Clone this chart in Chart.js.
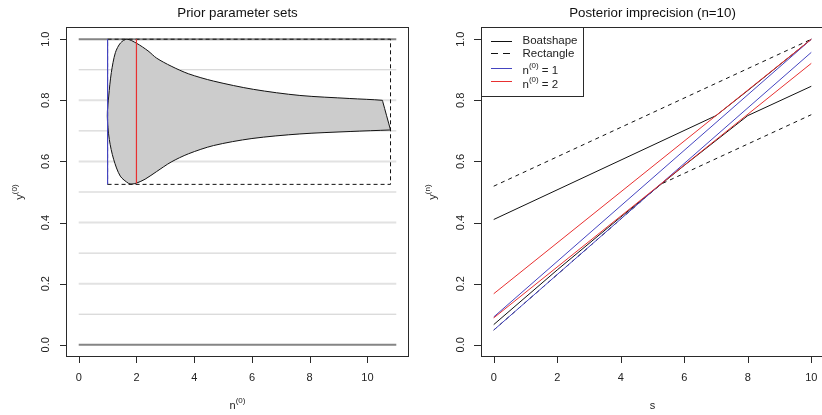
<!DOCTYPE html>
<html>
<head>
<meta charset="utf-8">
<script src="https://cdn.jsdelivr.net/npm/chart.js@4.4.1/dist/chart.umd.min.js"></script>
<style>
  body { margin: 0; background: #fff; }
  #wrap { position: relative; width: 822px; height: 415px; overflow: hidden; }
  .panel { position: absolute; top: 0; height: 415px; width: 411px; overflow: hidden; }
  #p1 { left: 0; }
  #p2 { left: 411px; }
  canvas { display: block; }
  .box { position: absolute; box-sizing: border-box; border: 1px solid #2a2a2a; pointer-events: none; }
</style>
</head>
<body>
<div id="wrap">
  <div class="panel" id="p1"><canvas id="prior" width="411" height="415"></canvas></div>
  <div class="panel" id="p2"><canvas id="post" width="420" height="415"></canvas></div>
</div>
<script>
// ---- left panel: prior parameter sets ----
const gridEnds = [0, 1];
const gridMajor = [0.2, 0.4, 0.6, 0.8];
const gridMinor = [0.1, 0.3, 0.5, 0.7, 0.9];
const gridSpan = [0, 11];

// boat outline, starting at the stern and going round the lower edge first
const boatN = [10.8, 9.4, 7.66, 6.0, 4.67, 3.8, 3.2, 2.7, 2.3, 2.0, 1.84, 1.73, 1.44, 1.21, 1.06, 0.99,
               1.04, 1.13, 1.27, 1.45, 1.67, 2.0, 2.4, 2.7, 3.2, 3.8, 4.67, 6.05, 7.66, 9.39, 10.52, 10.53, 10.8];
const boatY = [0.703, 0.698, 0.69, 0.675, 0.652, 0.625, 0.598, 0.567, 0.542, 0.529, 0.526, 0.528, 0.552, 0.607, 0.672, 0.749,
               0.814, 0.891, 0.956, 0.988, 1.0, 0.987, 0.962, 0.938, 0.912, 0.887, 0.863, 0.836, 0.816, 0.806, 0.80, 0.796, 0.703];

const rectN = [1, 10.8, 10.8, 1, 1];
const rectY = [0.525, 0.525, 1, 1, 0.525];
const n1N = [1, 1],  n1Y = [0.525, 1];
const n2N = [2, 2],  n2Y = [0.528, 1];

const priorXTicks = [0, 2, 4, 6, 8, 10];
const yTicks = [0, 0.2, 0.4, 0.6, 0.8, 1];
const yTickLabels = ['0.0', '0.2', '0.4', '0.6', '0.8', '1.0'];

// ---- right panel: posterior imprecision, n = 10 ----
const sEnds = [0, 10];
const boatUpS = [0, 7, 8, 9, 10],        boatUpY = [0.41, 0.75, 0.832, 0.916, 1.0];
const boatLoS = [0, 2, 4, 6, 8, 10],     boatLoY = [0.066, 0.245, 0.418, 0.587, 0.75, 0.846];
const rectUpS = [0, 10],                 rectUpY = [0.519, 1.0];
const rectLoS = [0, 5.25, 10],           rectLoY = [0.048, 0.525, 0.753];
const n1UpY = [0.091, 1.0],  n1LoY = [0.048, 0.957];
const n2UpY = [0.167, 1.0],  n2LoY = [0.088, 0.921];
const sTicks = [0, 2, 4, 6, 8, 10];

const BLUE = '#4444c0';
const RED = '#e83030';
const FRAME = '#2a2a2a';
const FONT = '"Liberation Sans", Arial, Helvetica, sans-serif';
const TXT = '#222';

function pts(xs, ys) { return xs.map((x, i) => ({ x, y: ys[i] })); }

// datasets listed bottom-up; order makes the later ones paint on top
function stackOrder(list) {
  list.forEach((d, i) => { d.order = list.length - i; });
  return list;
}

function line(xs, ys, color, width, dash) {
  return {
    data: pts(xs, ys), showLine: true, borderColor: color, borderWidth: width,
    borderDash: dash || [], pointRadius: 0, fill: false, tension: 0
  };
}

function font(size) { return size + 'px ' + FONT; }

// text with a raised part, e.g. n^(0); parts = [text, size, raise]
function richText(ctx, parts, x, y, align) {
  let w = 0;
  parts.forEach(p => { ctx.font = font(p[1]); w += ctx.measureText(p[0]).width; });
  let cx = align === 'center' ? x - w / 2 : x;
  ctx.textAlign = 'left';
  ctx.textBaseline = 'middle';
  parts.forEach(p => {
    ctx.font = font(p[1]);
    ctx.fillText(p[0], cx, y - p[2]);
    cx += ctx.measureText(p[0]).width;
  });
}

function hline(ctx, x0, x1, y, color) {
  ctx.strokeStyle = color;
  ctx.beginPath();
  ctx.moveTo(x0, y + 0.5);
  ctx.lineTo(x1, y + 0.5);
  ctx.stroke();
}

function vline(ctx, x, y0, y1, color) {
  ctx.strokeStyle = color;
  ctx.beginPath();
  ctx.moveTo(x + 0.5, y0);
  ctx.lineTo(x + 0.5, y1);
  ctx.stroke();
}

function framePlugin(opt) {
  return {
    id: 'frame',
    afterDraw(chart) {
      const { ctx, chartArea: a, scales: { x, y } } = chart;
      ctx.save();
      ctx.setLineDash([]);
      ctx.lineWidth = 1;
      const L = Math.round(a.left), T = Math.round(a.top);
      const R = Math.round(a.right), B = Math.round(a.bottom);

      // plot box
      hline(ctx, L, R, T, FRAME);
      hline(ctx, L, R, B - 1, FRAME);
      vline(ctx, L, T, B, FRAME);
      vline(ctx, R - 1, T, B, FRAME);

      // axis ticks
      opt.xTicks.forEach(v => vline(ctx, Math.round(x.getPixelForValue(v)), B, B + 6, FRAME));
      yTicks.forEach(v => hline(ctx, L - opt.yTickLen, L, Math.round(y.getPixelForValue(v)), FRAME));

      // tick labels
      ctx.fillStyle = TXT;
      ctx.font = font(11);
      ctx.textAlign = 'center';
      ctx.textBaseline = 'middle';
      opt.xTicks.forEach(v => ctx.fillText(String(v), x.getPixelForValue(v), a.bottom + 21));
      yTicks.forEach((v, i) => {
        ctx.save();
        ctx.translate(a.left - 20, y.getPixelForValue(v));
        ctx.rotate(-Math.PI / 2);
        ctx.fillText(yTickLabels[i], 0, 0);
        ctx.restore();
      });

      // main title
      const cx = (a.left + a.right) / 2;
      ctx.font = font(13.3);
      ctx.fillStyle = '#111';
      ctx.fillText(opt.title, cx, 13);

      // axis titles
      ctx.fillStyle = TXT;
      richText(ctx, opt.xLabel, cx, 406, 'center');
      ctx.save();
      ctx.translate(a.left - opt.yLabelGap, (a.top + a.bottom) / 2);
      ctx.rotate(-Math.PI / 2);
      richText(ctx, opt.yLabel, 0, 0, 'center');
      ctx.restore();

      if (opt.legend) opt.legend(ctx, a);
      ctx.restore();
    }
  };
}

function baseOptions(pad, xMin, xMax) {
  return {
    responsive: false,
    animation: false,
    layout: { padding: pad },
    plugins: { legend: { display: false }, tooltip: { enabled: false } },
    scales: {
      x: { type: 'linear', min: xMin, max: xMax, display: false },
      y: { type: 'linear', min: -0.04, max: 1.04, display: false }
    }
  };
}

// outline of the plotting region, laid over the canvas
function boxOverlay(chart, panelLeft) {
  const a = chart.chartArea;
  const d = document.createElement('div');
  d.className = 'box';
  d.style.left = (panelLeft + Math.round(a.left)) + 'px';
  d.style.top = Math.round(a.top) + 'px';
  d.style.width = (Math.round(a.right) - Math.round(a.left)) + 'px';
  d.style.height = (Math.round(a.bottom) - Math.round(a.top)) + 'px';
  document.getElementById('wrap').appendChild(d);
}

// left chart
const priorSets = [];
gridMinor.forEach(v => priorSets.push(line(gridSpan, [v, v], '#cdcdcd', 1)));
gridMajor.forEach(v => priorSets.push(line(gridSpan, [v, v], '#e2e2e2', 2)));
gridEnds.forEach(v => priorSets.push(line(gridSpan, [v, v], '#858585', 2)));
const boat = line(boatN, boatY, '#111', 1);
boat.fill = 'shape';
boat.backgroundColor = '#cccccc';
boat.tension = 0.3;
priorSets.push(boat);
priorSets.push(line(rectN, rectY, '#111', 1, [4, 3]));
priorSets.push(line(n1N, n1Y, BLUE, 1.2));
priorSets.push(line(n2N, n2Y, RED, 1.2));

const priorChart = new Chart(document.getElementById('prior'), {
  type: 'scatter',
  data: { datasets: stackOrder(priorSets) },
  options: baseOptions({ left: 66, right: 2, top: 27, bottom: 58 }, -0.44, 11.44),
  plugins: [framePlugin({
    title: 'Prior parameter sets',
    xTicks: priorXTicks,
    yTickLen: 6,
    yLabelGap: 46,
    xLabel: [['n', 11, 0], ['(0)', 8, 5]],
    yLabel: [['y', 11, 0], ['(0)', 8, 5]]
  })]
});

// right chart
const postSets = stackOrder([
  line(boatUpS, boatUpY, '#111', 1),
  line(boatLoS, boatLoY, '#111', 1),
  line(rectUpS, rectUpY, '#111', 1, [4, 4]),
  line(rectLoS, rectLoY, '#111', 1, [4, 4]),
  line(sEnds, n1UpY, BLUE, 1),
  line(sEnds, n1LoY, BLUE, 1),
  line(sEnds, n2UpY, RED, 1),
  line(sEnds, n2LoY, RED, 1)
]);

const legendRows = [
  { parts: [['Boatshape', 11.5, 0]], color: '#111', dash: [], ly: 14, ty: 14 },
  { parts: [['Rectangle', 11.5, 0]], color: '#111', dash: [7, 5], ly: 26, ty: 26.5 },
  { parts: [['n', 11.5, 0], ['(0)', 8, 5], [' = 1', 11.5, 0]], color: BLUE, dash: [], ly: 41, ty: 44 },
  { parts: [['n', 11.5, 0], ['(0)', 8, 5], [' = 2', 11.5, 0]], color: RED, dash: [], ly: 54, ty: 58 }
];

function drawLegend(ctx, a) {
  const L = Math.round(a.left), T = Math.round(a.top);
  ctx.fillStyle = '#fff';
  ctx.fillRect(L + 1, T + 1, 101, 68);
  hline(ctx, L, L + 103, T, FRAME);
  hline(ctx, L, L + 103, T + 69, FRAME);
  vline(ctx, L, T, T + 70, FRAME);
  vline(ctx, L + 102, T, T + 70, FRAME);
  legendRows.forEach(r => {
    ctx.setLineDash(r.dash);
    hline(ctx, L + 10, L + 31, T + r.ly, r.color);
    ctx.setLineDash([]);
    ctx.fillStyle = TXT;
    richText(ctx, r.parts, L + 41.5, T + r.ty, 'left');
  });
}

const postChart = new Chart(document.getElementById('post'), {
  type: 'scatter',
  data: { datasets: postSets },
  options: baseOptions({ left: 70, right: 7, top: 27, bottom: 58 }, -0.4, 10.4),
  plugins: [framePlugin({
    title: 'Posterior imprecision (n=10)',
    xTicks: sTicks,
    yTickLen: 7,
    yLabelGap: 48,
    xLabel: [['s', 11, 0]],
    yLabel: [['y', 11, 0], ['(n)', 8, 5]],
    legend: drawLegend
  })]
});

boxOverlay(priorChart, 0);
boxOverlay(postChart, 411);
</script>
</body>
</html>
